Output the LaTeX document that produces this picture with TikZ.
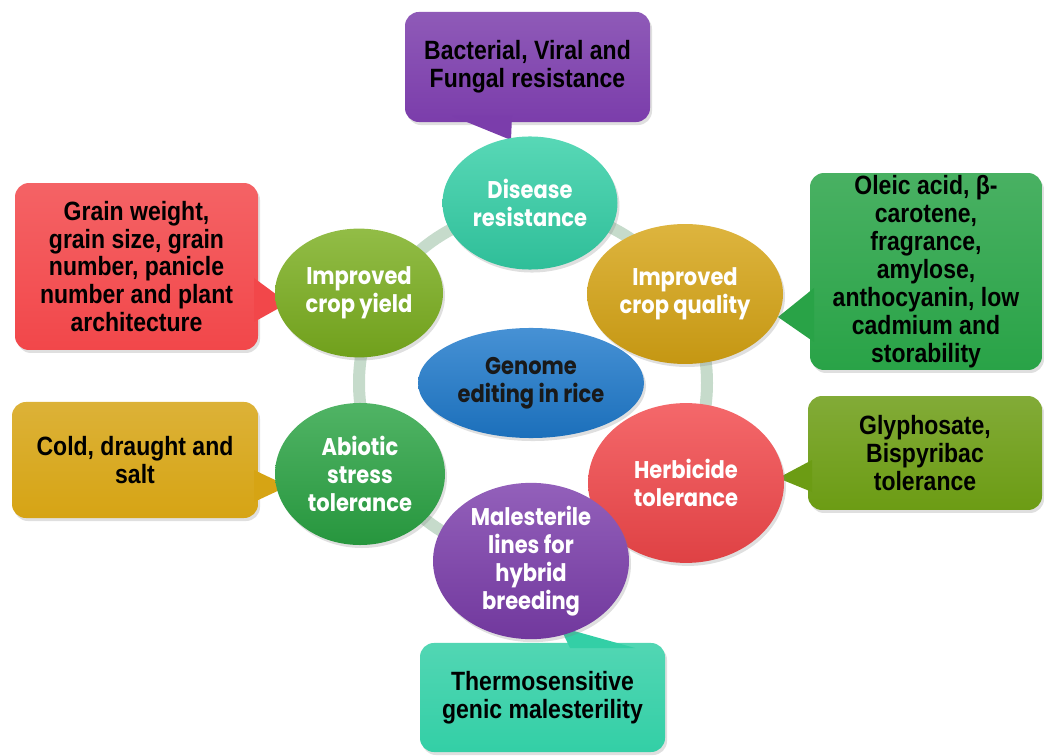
\documentclass[tikz,border=0pt]{standalone}
\usepackage{fontspec}
\setmainfont{Liberation Sans}
\newfontfamily\gothic{Poppins}
\usetikzlibrary{shadows,shapes.geometric}
\definecolor{cpurple}{HTML}{7B3DAB}
\definecolor{cred}{HTML}{F2474A}
\definecolor{cgreenq}{HTML}{29A347}
\definecolor{cgold}{HTML}{D6A414}
\definecolor{colive}{HTML}{6C9C14}
\definecolor{cteal}{HTML}{33CFA6}
\definecolor{cyield}{HTML}{7AAE1E}
\definecolor{cblue}{HTML}{1E79CB}
\definecolor{cabio}{HTML}{2AA343}
\definecolor{cring}{HTML}{C6DBCB}
\tikzset{
  bubble/.style={ellipse, inner sep=0pt, align=center, text=white,
    font=\gothic\bfseries\fontsize{21}{24.5}\selectfont,
    top color=#1!82!white, bottom color=#1!92!black,
    drop shadow={opacity=0.25, shadow xshift=2pt, shadow yshift=-3pt}},
  callbox/.style={rectangle, rounded corners=14pt, inner sep=0pt, align=center,
    font=\bfseries\fontsize{23}{24.3}\selectfont, text=black,
    top color=#1!85!white, bottom color=#1,
    drop shadow={opacity=0.25, shadow xshift=2pt, shadow yshift=-3pt}},
  pointer/.style={fill=#1}
}
\begin{document}
\begin{tikzpicture}[x=1pt, y=-0.869565pt, yscale=1.15, transform shape]
\useasboundingbox (0,0) rectangle (1044,756);
% ring
\draw[cring, line width=12pt] (533,383) ellipse [x radius=174, y radius=174];
% callouts
\node[callbox=cpurple, minimum width=245pt, minimum height=95.7pt] (bact) at (527.5,67) {Bacterial, Viral and\\Fungal resistance};
\node[callbox=cred, minimum width=243pt, minimum height=145.2pt] (grain) at (136.5,266.5) {Grain weight,\\grain size, grain\\number, panicle\\number and plant\\architecture};
\node[callbox=cgreenq, minimum width=232pt, minimum height=171.3pt] (oleic) at (926,271.5) {Oleic acid, β-\\carotene,\\fragrance,\\amylose,\\anthocyanin, low\\cadmium and\\storability};
\node[callbox=cgold, minimum width=246pt, minimum height=100.9pt] (cold) at (135,460) {Cold, draught and\\salt};
\node[callbox=colive, minimum width=234pt, minimum height=99.1pt] (glyph) at (925,453) {Glyphosate,\\Bispyribac\\tolerance};
\node[callbox=cteal, minimum width=245pt, minimum height=94.8pt] (thermo) at (542.5,697.5) {Thermosensitive\\genic malesterility};
% pointer tips
\coordinate (tA) at (511,140);
\coordinate (tB) at (288,303);
\coordinate (tC) at (778,317);
\coordinate (tD) at (288,486);
\coordinate (tE) at (778,478);
\coordinate (tF) at (560,627);
\fill[pointer=cpurple] (452,116) -- (tA) -- (512,116) -- cycle;
\fill[pointer=cred] (254,278) -- (tB) -- (254,322) -- cycle;
\fill[pointer=cgreenq] (814,288) -- (tC) -- (814,342) -- cycle;
\fill[pointer=cgold] (254,470) -- (tD) -- (254,502) -- cycle;
\fill[pointer=colive] (812,460) -- (tE) -- (812,492) -- cycle;
\fill[pointer=cteal] (570,648) -- (tF) -- (635,648) -- cycle;
% bubbles
\node[bubble=cteal, minimum width=175pt, minimum height=115.7pt] (dis) at (530,203) {Disease\\resistance};
\node[bubble=cyield, minimum width=168pt, minimum height=112pt] (yield) at (359,293) {Improved\\crop yield};
\node[bubble=cgold, minimum width=196pt, minimum height=121.7pt] (qual) at (685,294) {Improved\\crop quality};
\node[bubble=cabio, minimum width=170pt, minimum height=123.5pt] (abio) at (360,474) {Abiotic\\stress\\tolerance};
\node[bubble=cred, minimum width=196pt, minimum height=139pt] (herb) at (686,483) {Herbicide\\tolerance};
\node[bubble=cpurple, minimum width=196pt, minimum height=119pt] (male) at (531,561) {Malesterile\\lines for\\hybrid\\breeding};
\node[bubble=cblue, minimum width=226pt, minimum height=95.7pt, text=black!90] (gen) at (531,383) {Genome\\editing in rice};
\end{tikzpicture}
\end{document}
